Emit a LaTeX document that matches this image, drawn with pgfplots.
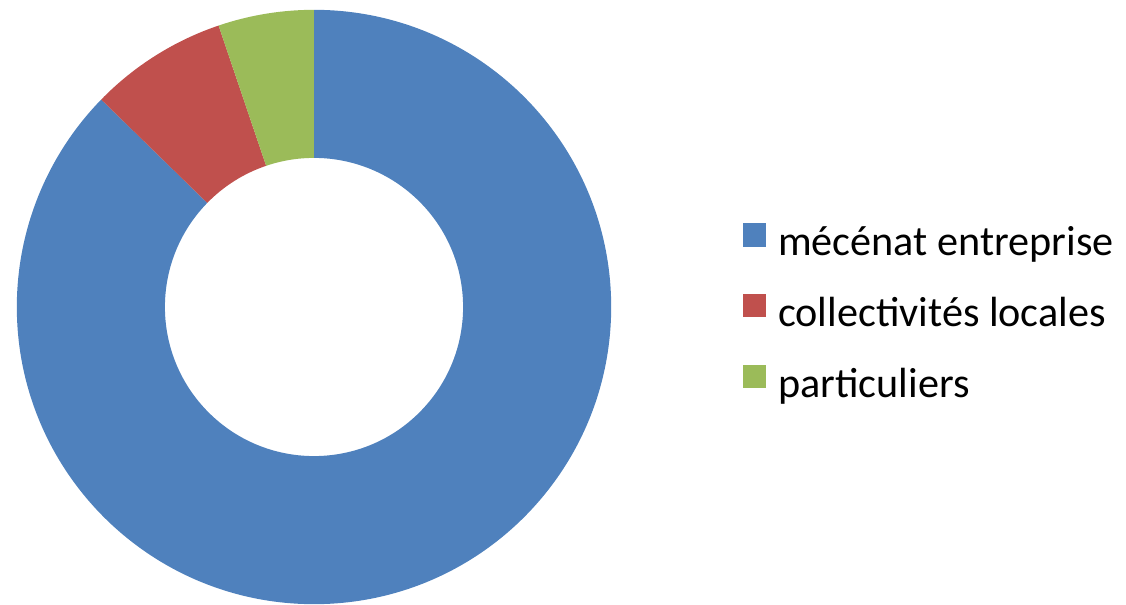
\documentclass[border=0pt]{standalone}
\usepackage{pgfplots}
\usepackage{pgfplotstable}
\usepackage{fontspec}
\setmainfont{Carlito}
\pgfplotsset{compat=1.18}

\definecolor{cblue}{HTML}{4F81BD}
\definecolor{cred}{HTML}{C0504D}
\definecolor{cgreen}{HTML}{9BBB59}

% parts of the budget, in percent
\pgfplotstableread{
source value
mecenat 87.3
collectivites 7.5
particuliers 5.2
}\parts

\pgfplotstablegetelem{0}{value}\of\parts \let\vA\pgfplotsretval
\pgfplotstablegetelem{1}{value}\of\parts \let\vB\pgfplotsretval
\pgfplotstablegetelem{2}{value}\of\parts \let\vC\pgfplotsretval
\pgfmathsetmacro\total{\vA+\vB+\vC}
% slices start at the top and run clockwise
\pgfmathsetmacro\aA{90}
\pgfmathsetmacro\aB{\aA-\vA/\total*360}
\pgfmathsetmacro\aC{\aB-\vB/\total*360}
\pgfmathsetmacro\aD{\aC-\vC/\total*360}

\newcommand\slice[3]{% colour, start, end
  \fill[#1] (axis cs:314,297) ++(#2:2.97cm)
    arc[start angle=#2, end angle=#3, radius=2.97cm]
    -- ++(#3+180:1.48cm)
    arc[start angle=#3, end angle=#2, radius=1.49cm] -- cycle;}

\begin{document}
\begin{tikzpicture}
\begin{axis}[
    x=0.01cm, y=0.01cm,
    xmin=0, xmax=1126, ymin=0, ymax=604,
    hide axis,
    clip=false,
    font=\fontsize{12}{14}\selectfont,
    legend image code/.code={\fill[#1] (0cm,0cm) rectangle (0.22cm,0.22cm);},
    legend cell align=left,
    legend style={at={(axis cs:742,381.5)}, anchor=north west,
        draw=none, fill=none, inner sep=0pt,
        row sep=0.28cm, column sep=0.12cm,
        nodes={inner sep=0pt, text height=0.30cm, text depth=0.10cm}},
]
\path (axis cs:0,0) rectangle (axis cs:1126,604);
\slice{cblue}{\aA}{\aB}
\slice{cred}{\aB}{\aC}
\slice{cgreen}{\aC}{\aD}
\addlegendimage{cblue}
\addlegendentry{mécénat entreprise}
\addlegendimage{cred}
\addlegendentry{collectivités locales}
\addlegendimage{cgreen}
\addlegendentry{particuliers}
\end{axis}
\end{tikzpicture}
\end{document}
